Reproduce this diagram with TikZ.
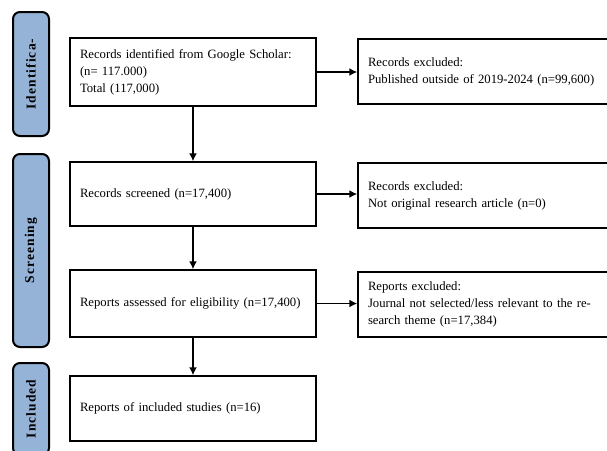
\documentclass[tikz,border=0pt]{standalone}
\usepackage{fontspec}
\setmainfont{Liberation Serif}
\usetikzlibrary{positioning}
\usetikzlibrary{calc}
\usetikzlibrary{arrows.meta}
\definecolor{stageblue}{RGB}{149,179,215}

\begin{document}
\begin{tikzpicture}[x=1pt,y=-1pt]
\tikzstyle{stage} =[rectangle,rounded corners=7pt,draw=black,line width=2pt,fill=stageblue,minimum height=36pt,rotate=90,font=\fontsize{13.5}{16}\selectfont\bfseries\addfontfeature{LetterSpace=8}]
\tikzstyle{record} =[rectangle,draw=black,line width=1.5pt,fill=white,minimum width=246pt,text width=226pt,inner xsep=10pt,align=left,font=\fontsize{12.7}{17}\selectfont]
\tikzstyle{excluded} =[record,minimum width=270pt,text width=250pt]
\tikzstyle{flow} =[line width=1.5pt,-{Latex[length=8pt,width=8pt]}]
\useasboundingbox (0,0) rectangle (607,450);

\node[stage,minimum width=124pt](ident) at (31,74) {Identifica-};
\node[stage,minimum width=193pt](screen) at (31,250.5) {Screening};
\node[stage,minimum width=92pt](incl) at (31,409) {Included};

\node[record,minimum height=68pt](found) at (193,72) {Records identified from Google Scholar:\\(n= 117.000)\\Total (117,000)};
\node[record,minimum height=64pt](screened) at ($(found)+(0,122)$) {Records screened (n=17,400)};
\node[record,minimum height=67pt](assessed) at ($(found)+(0,231.5)$) {Reports assessed for eligibility (n=17,400)};
\node[record,minimum height=65pt](included) at ($(found)+(0,336.5)$) {Reports of included studies (n=16)};

\node[excluded,minimum height=65pt](outside) at (493,71.5) {Records excluded:\\Published outside of 2019-2024 (n=99,600)};
\node[excluded,minimum height=65pt](notorig) at ($(outside)+(0,124)$) {Records excluded:\\Not original research article (n=0)};
\node[excluded,minimum height=65pt](notrel) at ($(outside)+(0,233)$) {Reports excluded:\\Journal not selected/less relevant to the re-\\search theme (n=17,384)};

\draw[flow] (found.south)--(screened.north);
\draw[flow] (screened.south)--(assessed.north);
\draw[flow] (assessed.south)--(included.north);

\draw[flow] (found.east)--(found.east -| outside.west);
\draw[flow] (screened.east)--(screened.east -| notorig.west);
\draw[flow] (assessed.east)--(assessed.east -| notrel.west);
\end{tikzpicture}
\end{document}
